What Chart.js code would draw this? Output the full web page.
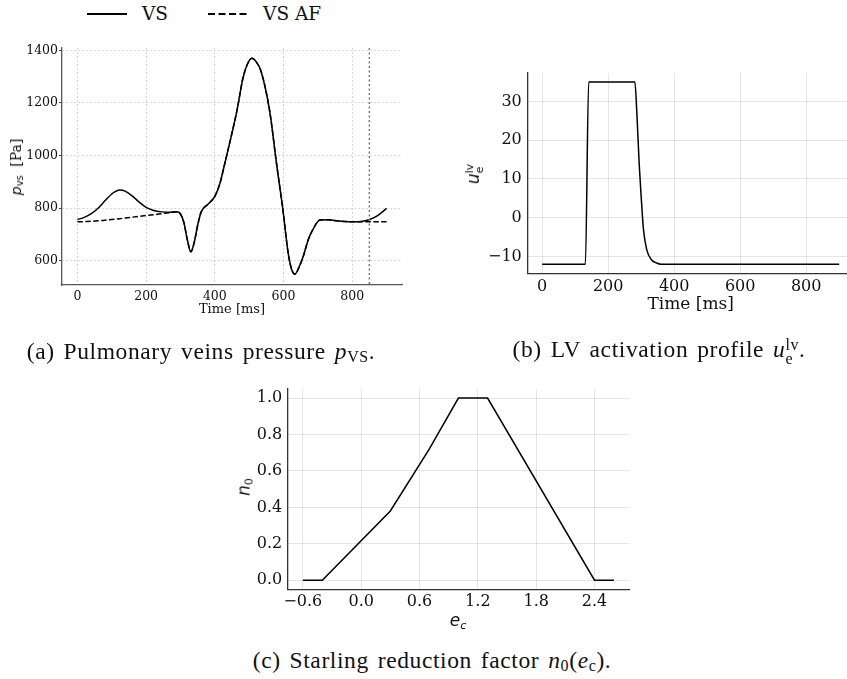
<!DOCTYPE html>
<html>
<head>
<meta charset="utf-8">
<script src="https://cdn.jsdelivr.net/npm/chart.js@4.4.1/dist/chart.umd.min.js"></script>
<style>
  html, body { margin: 0; padding: 0; width: 847px; height: 679px; overflow: hidden; background: #fff; }
  canvas { position: absolute; }
  .lbl { position: absolute; white-space: nowrap; color: #111; line-height: 1; transform: translate(-50%, -50%); }
  .rot { transform: translate(-50%, -50%) rotate(-90deg); }
  .m { font-family: 'DejaVu Sans', sans-serif; font-style: italic; }
  .s { font-family: 'DejaVu Sans', sans-serif; }
  .cap { font-family: 'Liberation Serif', serif; font-size: 23.5px; letter-spacing: 0.6px; word-spacing: 2.5px; color: #111; }
  .cap i { font-style: italic; }
  .stack { display: inline-block; vertical-align: middle; line-height: 0.9; text-align: left; }
  .stack span { display: block; }
  .legend { position: absolute; top: 3px; left: 87px; font-family: 'DejaVu Serif', serif; font-size: 18.5px; color: #111; display: flex; align-items: center; }
  .legend svg { display: block; }
</style>
</head>
<body>
<div class="legend">
  <svg width="40" height="20"><line x1="0" y1="10" x2="40" y2="10" stroke="#000" stroke-width="2"/></svg>
  <span style="margin-left:15px">VS</span>
  <svg width="40" height="20" style="margin-left:40px"><line x1="0" y1="10" x2="40" y2="10" stroke="#000" stroke-width="2" stroke-dasharray="7,3.5"/></svg>
  <span style="margin-left:15px">VS AF</span>
</div>

<canvas id="chartA" width="420" height="310" style="left:0;top:30px"></canvas>
<canvas id="chartB" width="440" height="300" style="left:420px;top:40px"></canvas>
<canvas id="chartC" width="450" height="280" style="left:200px;top:360px"></canvas>

<div class="lbl rot" style="left:17px;top:167px;font-size:14px">
  <span class="m">p</span><span class="s" style="font-size:10px;vertical-align:-2px">vs</span>
  <span style="font-family:'DejaVu Serif',serif;margin-left:5px">[Pa]</span>
</div>
<div class="lbl rot" style="left:475px;top:174px;font-size:17px">
  <span class="m">u</span><span class="stack s" style="font-size:11px"><span>lv</span><span>e</span></span>
</div>
<div class="lbl rot" style="left:245px;top:487px;font-size:17px">
  <span class="m">n</span><span class="s" style="font-size:11px;vertical-align:-3px">0</span>
</div>
<div class="lbl" style="left:458px;top:621px;font-size:17px">
  <span class="m">e</span><span class="m" style="font-size:11px;vertical-align:-3px">c</span>
</div>

<div class="lbl cap" style="left:201px;top:352px">(a) Pulmonary veins pressure <i>p</i><span style="font-size:16px;vertical-align:-3px">VS</span>.</div>
<div class="lbl cap" style="left:659px;top:352px">(b) LV activation profile <i>u</i><span class="stack" style="font-size:16px"><span>lv</span><span>e</span></span>.</div>
<div class="lbl cap" style="left:432px;top:661px">(c) Starling reduction factor <i>n</i><span style="font-size:16px;vertical-align:-3px">0</span>(<i>e</i><span style="font-size:16px;vertical-align:-3px">c</span>).</div>

<script>
// (a) pulmonary veins pressure, time in ms
const timeA = [0, 20, 40, 60, 80, 100, 123, 140, 160, 180, 200, 220, 245, 270, 289,
  300, 310, 320, 330, 340, 350, 360, 380, 400, 415, 429, 440, 453, 465, 482, 495,
  508, 520, 535, 560, 579, 599, 613, 623, 633, 645, 657, 672, 686, 706, 730, 754,
  780, 803, 830, 851, 875, 900];
const pressureVS = [757, 765, 779, 800, 828, 854, 869, 864, 846, 823, 803, 792, 786, 785, 786,
  778, 745, 680, 634, 670, 735, 785, 815, 845, 895, 970, 1030, 1103, 1175, 1295, 1348,
  1370, 1357, 1319, 1167, 976, 786, 634, 570, 549, 575, 615, 680, 720, 755, 756, 752,
  749, 748, 750, 757, 773, 799];
const pressureAF = [748, 749, 750, 752, 754, 757, 760, 763, 766, 769, 772, 775, 779, 783, 786,
  778, 745, 680, 634, 670, 735, 785, 815, 845, 895, 970, 1030, 1103, 1175, 1295, 1348,
  1370, 1357, 1319, 1167, 976, 786, 634, 570, 549, 575, 615, 680, 720, 755, 756, 752,
  749, 748, 748, 748, 748, 748];
const markerTimeA = 850;
const xTicksA = [0, 200, 400, 600, 800];
const yTicksA = [600, 800, 1000, 1200, 1400];

// (b) LV activation profile
const timeB = [0, 131, 141, 281, 287, 294, 300, 307, 317, 332, 347, 360, 900];
const activationB = [-12, -12, 35, 35, 27, 14, 5.5, -3, -8.3, -10.9, -11.7, -12, -12];
const xTicksB = [0, 200, 400, 600, 800];
const yTicksB = [-10, 0, 10, 20, 30];

// (c) Starling reduction factor
const strainC = [-0.6, -0.4, 0.3, 0.7, 1.0, 1.3, 2.4, 2.6];
const factorC = [0, 0, 0.38, 0.72, 1, 1, 0, 0];
const xTicksC = [-0.6, 0.0, 0.6, 1.2, 1.8, 2.4];
const yTicksC = [0.0, 0.2, 0.4, 0.6, 0.8, 1.0];

const SERIF = "'DejaVu Serif', serif";
Chart.defaults.font.family = SERIF;
Chart.defaults.color = '#111';
Chart.defaults.animation = false;

const pairs = (xs, ys) => xs.map((x, i) => ({ x: x, y: ys[i] }));
const useTicks = (values) => (scale) => { scale.ticks = values.map(v => ({ value: v })); };
const minus = (txt) => String(txt).replace('-', '\u2212');

const markerLine = {
  id: 'markerLine',
  afterDatasetsDraw(chart, args, opts) {
    const { ctx, chartArea, scales } = chart;
    const x = scales.x.getPixelForValue(opts.value);
    ctx.save();
    ctx.strokeStyle = opts.color;
    ctx.lineWidth = opts.width;
    ctx.setLineDash(opts.dash);
    ctx.beginPath();
    ctx.moveTo(x, chartArea.top);
    ctx.lineTo(x, chartArea.bottom);
    ctx.stroke();
    ctx.restore();
  }
};

new Chart(document.getElementById('chartA'), {
  type: 'line',
  data: {
    datasets: [
      {
        label: 'VS',
        data: pairs(timeA, pressureVS),
        borderColor: '#000',
        borderWidth: 1.5,
        pointRadius: 0,
        cubicInterpolationMode: 'monotone'
      },
      {
        label: 'VS AF',
        data: pairs(timeA, pressureAF),
        borderColor: '#000',
        borderWidth: 1.5,
        borderDash: [5.5, 2.4],
        pointRadius: 0,
        cubicInterpolationMode: 'monotone'
      }
    ]
  },
  plugins: [markerLine],
  options: {
    responsive: false,
    devicePixelRatio: 1,
    layout: { padding: { top: 18, right: 18, left: 0, bottom: 0 } },
    scales: {
      x: {
        type: 'linear',
        min: -45,
        max: 945,
        afterBuildTicks: useTicks(xTicksA),
        afterFit: (s) => { s.height = 55; },
        grid: { color: 'rgba(0,0,0,0.16)', lineWidth: 1, drawTicks: false },
        border: { color: '#555', width: 1.3, dash: [2, 2] },
        ticks: { font: { family: SERIF, size: 12.5 }, padding: 4, maxRotation: 0, callback: (v) => String(v) },
        title: { display: true, text: 'Time [ms]', font: { family: SERIF, size: 13 }, padding: { top: 0, bottom: 23 } }
      },
      y: {
        type: 'linear',
        min: 508,
        max: 1409,
        afterBuildTicks: useTicks(yTicksA),
        afterFit: (s) => { s.width = 62; },
        grid: { color: 'rgba(0,0,0,0.16)', lineWidth: 1, tickLength: 3, tickColor: '#444' },
        border: { color: '#555', width: 1.3, dash: [2, 2] },
        ticks: { font: { family: SERIF, size: 12.5 }, padding: 1, callback: (v) => String(v) }
      }
    },
    plugins: {
      legend: { display: false },
      tooltip: { enabled: false },
      markerLine: { value: markerTimeA, color: '#777', width: 1.5, dash: [2, 2.5] }
    }
  }
});

new Chart(document.getElementById('chartB'), {
  type: 'line',
  data: {
    datasets: [
      {
        label: 'u_e^lv',
        data: pairs(timeB, activationB),
        borderColor: '#000',
        borderWidth: 1.5,
        pointRadius: 0,
        cubicInterpolationMode: 'monotone'
      }
    ]
  },
  options: {
    responsive: false,
    devicePixelRatio: 1,
    layout: { padding: { top: 33, right: 6, left: 0, bottom: 0 } },
    scales: {
      x: {
        type: 'linear',
        min: -45,
        max: 945,
        afterBuildTicks: useTicks(xTicksB),
        afterFit: (s) => { s.height = 66.7; },
        grid: { color: 'rgba(0,0,0,0.1)', lineWidth: 1, drawTicks: false },
        border: { color: '#333', width: 1.3 },
        ticks: { font: { family: SERIF, size: 16 }, padding: 4, maxRotation: 0, callback: (v) => String(v) },
        title: { display: true, text: 'Time [ms]', font: { family: SERIF, size: 17 }, padding: { top: 0, bottom: 25 } }
      },
      y: {
        type: 'linear',
        min: -14.35,
        max: 37.35,
        afterBuildTicks: useTicks(yTicksB),
        afterFit: (s) => { s.width = 107.3; },
        grid: { color: 'rgba(0,0,0,0.1)', lineWidth: 1, drawTicks: false },
        border: { color: '#333', width: 1.3 },
        ticks: { font: { family: SERIF, size: 16 }, padding: 5.5, callback: (v) => minus(v) }
      }
    },
    plugins: { legend: { display: false }, tooltip: { enabled: false } }
  }
});

new Chart(document.getElementById('chartC'), {
  type: 'line',
  data: {
    datasets: [
      {
        label: 'n_0',
        data: pairs(strainC, factorC),
        borderColor: '#000',
        borderWidth: 1.5,
        pointRadius: 0,
        tension: 0
      }
    ]
  },
  options: {
    responsive: false,
    devicePixelRatio: 1,
    layout: { padding: { top: 29, right: 20.5, left: 0, bottom: 0 } },
    scales: {
      x: {
        type: 'linear',
        min: -0.76,
        max: 2.76,
        afterBuildTicks: useTicks(xTicksC),
        afterFit: (s) => { s.height = 50.7; },
        grid: { color: 'rgba(0,0,0,0.1)', lineWidth: 1, drawTicks: false },
        border: { color: '#333', width: 1.3 },
        ticks: { font: { family: SERIF, size: 16 }, padding: 3, maxRotation: 0, callback: (v) => minus(v.toFixed(1)) }
      },
      y: {
        type: 'linear',
        min: -0.05,
        max: 1.05,
        afterBuildTicks: useTicks(yTicksC),
        afterFit: (s) => { s.width = 87.3; },
        grid: { color: 'rgba(0,0,0,0.1)', lineWidth: 1, drawTicks: false },
        border: { color: '#333', width: 1.3 },
        ticks: { font: { family: SERIF, size: 16 }, padding: 5, callback: (v) => v.toFixed(1) }
      }
    },
    plugins: { legend: { display: false }, tooltip: { enabled: false } }
  }
});
</script>
</body>
</html>
